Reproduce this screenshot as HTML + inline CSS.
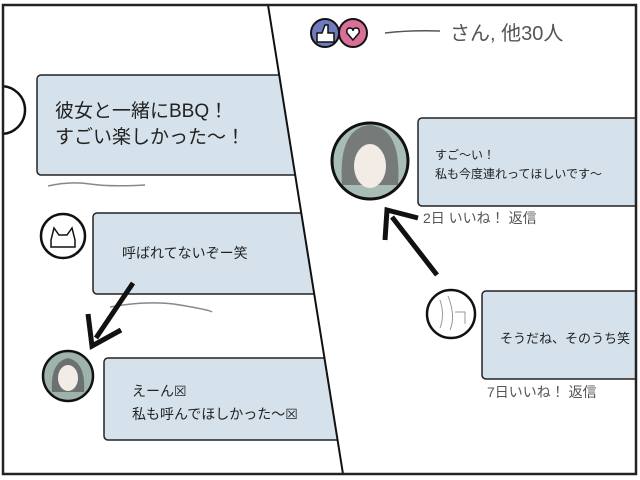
<!DOCTYPE html>
<html><head><meta charset="utf-8"><style>
html,body{margin:0;padding:0;background:#fff;}
svg{display:block;}
text{font-family:"Liberation Sans","Noto Sans CJK JP",sans-serif;fill:#222;}
</style></head><body>
<svg width="640" height="480" viewBox="0 0 640 480">
<defs>
<clipPath id="L"><polygon points="3,5 268,5 343,474 3,474"/></clipPath>
<clipPath id="R"><polygon points="270,5 636,5 636,474 345,474"/></clipPath>
</defs>
<rect width="640" height="480" fill="#fff"/>
<g clip-path="url(#L)">
<circle cx="1" cy="110" r="24" fill="#fff" stroke="#111" stroke-width="2.5"/>
<rect x="37" y="75" width="320" height="100" rx="4" fill="#d5e2eb" stroke="#222" stroke-width="1.5"/>
<text x="55" y="117" font-size="19">彼女と一緒にBBQ！</text>
<text x="55" y="143" font-size="19">すごい楽しかった〜！</text>
<path d="M48 186 Q70 181 90 184 T145 185" stroke="#888" stroke-width="1.5" fill="none"/>
<circle cx="63" cy="236" r="22" fill="#fff" stroke="#111" stroke-width="2.5"/>
<path d="M51 240 l3 -12 l5 7 h8 l5 -7 l3 12 v7 h-24z" fill="none" stroke="#111" stroke-width="1.5"/>
<rect x="93" y="213" width="260" height="81" rx="4" fill="#d5e2eb" stroke="#222" stroke-width="1.5"/>
<text x="122" y="258" font-size="14">呼ばれてないぞー笑</text>
<path d="M110 307 Q150 300 180 305 T212 312" stroke="#888" stroke-width="1.5" fill="none"/>
<rect x="104" y="358" width="260" height="82" rx="4" fill="#d5e2eb" stroke="#222" stroke-width="1.5"/>
<text x="132" y="396" font-size="14">えーん☒</text>
<text x="132" y="419" font-size="14">私も呼んでほしかった〜☒</text>
<circle cx="68" cy="376" r="25" fill="#9fb3ad" stroke="#111" stroke-width="2.5"/>
<path d="M52 392 Q50 362 68 358 Q86 362 84 392" fill="#555" opacity=".7"/>
<ellipse cx="68" cy="378" rx="10" ry="13" fill="#f3ebe6"/>
<line x1="133" y1="283" x2="96" y2="338" stroke="#111" stroke-width="5"/>
<path d="M88 314 L92 346 L121 330" fill="none" stroke="#111" stroke-width="5"/>
</g>
<g clip-path="url(#R)">
<rect x="418" y="118" width="240" height="88" rx="4" fill="#d5e2eb" stroke="#222" stroke-width="1.5"/>
<text x="435" y="159" font-size="12">すご〜い！</text>
<text x="435" y="178" font-size="12">私も今度連れってほしいです〜</text>
<rect x="482" y="291" width="180" height="88" rx="4" fill="#d5e2eb" stroke="#222" stroke-width="1.5"/>
<text x="500" y="343" font-size="13">そうだね、そのうち笑</text>
</g>
<circle cx="325" cy="33" r="14" fill="#6f7bbf" stroke="#111" stroke-width="2"/>
<circle cx="353" cy="33" r="14" fill="#d96f99" stroke="#111" stroke-width="2"/>
<path d="M317 42 v-9 h5 l3 -8 h3 v8 h6 v9z" fill="#fff" stroke="#111" stroke-width="1.5"/>
<path d="M353 40 l-6 -7 q-1 -5 3 -5 q3 0 3 3 q0 -3 3 -3 q4 0 3 5z" fill="#fff" stroke="#111" stroke-width="1.5"/>
<path d="M385 33 Q410 30 440 31" stroke="#555" stroke-width="1.5" fill="none"/>
<text x="450" y="40" font-size="20" style="fill:#555">さん, 他30人</text>
<circle cx="370" cy="161" r="38" fill="#a8bdb6" stroke="#111" stroke-width="3"/>
<path d="M342 185 Q338 128 370 125 Q402 128 398 185" fill="#666" opacity=".75"/>
<ellipse cx="370" cy="166" rx="16" ry="22" fill="#f3ebe6"/>
<text x="423" y="223" font-size="14" style="fill:#555">2日  いいね！   返信</text>
<line x1="437" y1="275" x2="392" y2="217" stroke="#111" stroke-width="5"/>
<path d="M385 240 L387 210 L418 218" fill="none" stroke="#111" stroke-width="5"/>
<circle cx="451" cy="314" r="24" fill="#fff" stroke="#111" stroke-width="2.5"/>
<path d="M440 300 q5 15 0 28 M448 296 q8 20 2 34 M455 312 h10 v12" stroke="#999" fill="none"/>
<text x="487" y="397" font-size="14" style="fill:#555">7日いいね！   返信</text>
<line x1="268" y1="5" x2="343" y2="474" stroke="#111" stroke-width="2"/>
<rect x="3" y="5" width="633" height="469" fill="none" stroke="#222" stroke-width="2.5"/>
</svg>
</body></html>
